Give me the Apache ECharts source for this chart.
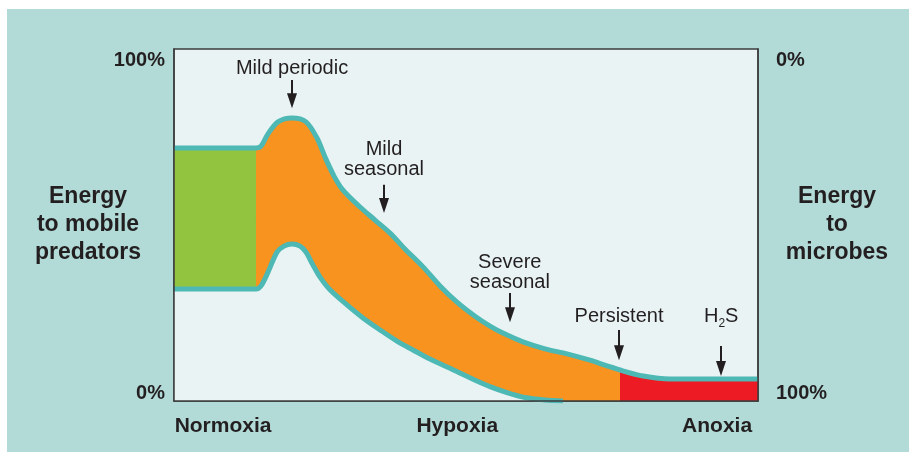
<!DOCTYPE html>
<html>
<head>
<meta charset="utf-8">
<title>Energy to predators and microbes along the oxygen gradient</title>
<script src="https://cdn.jsdelivr.net/npm/echarts@6/dist/echarts.min.js"></script>
<style>
  html, body { margin: 0; padding: 0; background: #fff; }
  #frame { position: absolute; left: 7px; top: 9px; width: 902px; height: 443px; background: #b2dbd8; }
  #chart { position: absolute; left: 0; top: 0; width: 909px; height: 452px; }
</style>
</head>
<body>
<div id="frame"></div>
<div id="chart"></div>
<script>
// upper and lower edge of the energy band, [oxygen position 0-100, energy % to predators]
const upperEdge = [
  [0, 71.9], [14.04, 71.9], [14.9, 72.4], [16.1, 75.9], [17.81, 79.3], [20.21, 80.4],
  [22.6, 79.3], [24.49, 74.7], [25.86, 69.3], [27.4, 63.9], [28.94, 59.9], [31.85, 55.1],
  [34.42, 51.4], [36.99, 47.7], [39.55, 43.2], [42.64, 38.1], [45.55, 32.7], [48.46, 28.1],
  [51.54, 24.1], [54.11, 21.3], [56.68, 19.0], [59.76, 16.8], [63.53, 14.8], [67.29, 13.4],
  [71.23, 11.6], [73.8, 10.2], [76.37, 8.8], [80.31, 7.1], [84.93, 6.25], [100, 6.25]
];
const lowerEdge = [
  [0, 31.8], [14.04, 31.8], [14.9, 32.7], [16.1, 36.6], [17.64, 42.3], [18.84, 44.0],
  [20.21, 44.6], [21.58, 44.0], [22.6, 42.3], [23.8, 38.6], [25.0, 35.2], [26.71, 31.6],
  [29.62, 27.3], [32.36, 23.6], [35.27, 20.2], [38.18, 17.0], [40.92, 14.5], [43.84, 11.9],
  [47.77, 8.9], [51.2, 6.2], [54.11, 4.1], [57.02, 2.4], [60.1, 1.0], [63.53, 0.3], [66.61, 0]
];
// where normoxia turns to hypoxia, and hypoxia to anoxia
const greenEnd = 14.04;
const redStart = 76.37;

// arrows: x, arrow tip, arrow tail, label centre
const annoLabels = ['Mild periodic', 'Mild\nseasonal', 'Severe\nseasonal', 'Persistent', 'H{sub|2}S'];
const annoX = [20.21, 35.96, 57.5, 76.2, 93.7];
const annoTip = [83.2, 53.4, 22.4, 11.6, 7.1];
const annoTail = [91.2, 61.4, 30.7, 20.2, 15.6];
const annoTextY = [94.6, 68.75, 36.6, 24.1, 24.1];

const xLabelAt = [8.4, 48.5, 93];
const xLabels = ['Normoxia', 'Hypoxia', 'Anoxia'];

const FONT = '"Liberation Sans", Arial, Helvetica, sans-serif';
const INK = '#231f20';
const TEAL = '#4db8b4';
const PLOT_BG = '#e9f3f3';
const SMOOTH = 0.3;

const chart = echarts.init(document.getElementById('chart'));

const bandArea = (data, color) => ({
  type: 'line', data: data, smooth: SMOOTH, symbol: 'none', silent: true,
  lineStyle: { width: 0 }, areaStyle: { color: color, opacity: 1 }
});
const edgeLine = (data) => ({
  type: 'line', data: data, smooth: SMOOTH, symbol: 'none', silent: true,
  lineStyle: { color: TEAL, width: 5 }
});

const greenPart = upperEdge.filter(p => p[0] <= greenEnd);
const orangePart = upperEdge.filter(p => p[0] >= greenEnd && p[0] <= redStart);
const redPart = upperEdge.filter(p => p[0] >= redStart);
const coverPart = lowerEdge.concat([[100, 0]]);

const percentRich = {
  hi: { padding: [22, 0, 0, 0], fontSize: 20, fontWeight: 'bold', fontFamily: FONT, color: INK },
  lo: { padding: [0, 0, 16, 0], fontSize: 20, fontWeight: 'bold', fontFamily: FONT, color: INK }
};
const borderLine = { show: true, lineStyle: { color: '#3d3d3d', width: 1.5 } };
const sideTitle = { align: 'center', fontSize: 23, fontWeight: 'bold', fontFamily: FONT, color: INK, lineHeight: 28 };

const option = {
  animation: false,
  grid: {
    left: 174, right: 151, top: 49, bottom: 51,
    containLabel: false, outerBoundsMode: 'none',
    show: true, backgroundColor: PLOT_BG, borderColor: '#3d3d3d', borderWidth: 1.5
  },
  xAxis: {
    type: 'value', min: 0, max: 100, z: 10,
    axisLine: borderLine, axisTick: { show: false }, splitLine: { show: false },
    axisLabel: {
      customValues: xLabelAt,
      formatter: v => xLabels[xLabelAt.indexOf(v)],
      margin: 15, fontSize: 21, fontWeight: 'bold', fontFamily: FONT, color: INK
    }
  },
  yAxis: [{
    type: 'value', min: 0, max: 100, interval: 100, position: 'left', z: 10,
    axisLine: borderLine, axisTick: { show: false }, splitLine: { show: false },
    axisLabel: { margin: 9, formatter: v => v === 100 ? '{hi|100%}' : '{lo|0%}', rich: percentRich },
    name: 'Energy\nto mobile\npredators', nameLocation: 'middle', nameRotate: 0, nameGap: 86,
    nameMoveOverlap: false, nameTextStyle: sideTitle
  }, {
    type: 'value', min: 0, max: 100, interval: 100, position: 'right', z: 10,
    axisLine: borderLine, axisTick: { show: false }, splitLine: { show: false },
    axisLabel: { margin: 18, formatter: v => v === 100 ? '{hi|0%}' : '{lo|100%}', rich: percentRich },
    name: 'Energy\nto\nmicrobes', nameLocation: 'middle', nameRotate: 0, nameGap: 79,
    nameMoveOverlap: false, nameTextStyle: sideTitle
  }],
  series: [
    bandArea(greenPart, '#92c43f'),
    bandArea(orangePart, '#f7931e'),
    bandArea(redPart, '#ed1c24'),
    bandArea(coverPart, PLOT_BG),
    edgeLine(upperEdge),
    edgeLine(lowerEdge),
    {
      type: 'custom', clip: false, silent: true, z: 5,
      data: annoX.map((x, i) => [x, annoTip[i], annoTail[i], annoTextY[i]]),
      encode: { x: 0, y: 1 },
      renderItem: function (params, api) {
        const tip = api.coord([api.value(0), api.value(1)]);
        const tail = api.coord([api.value(0), api.value(2)]);
        const txt = api.coord([api.value(0), api.value(3)]);
        const x = Math.round(tip[0]);
        return {
          type: 'group',
          children: [
            { type: 'line', shape: { x1: x, y1: tail[1], x2: x, y2: tip[1] - 12 },
              style: { stroke: INK, lineWidth: 2 } },
            { type: 'polygon', shape: { points: [[x - 5, tip[1] - 15], [x + 5, tip[1] - 15], [x, tip[1]]] },
              style: { fill: INK } },
            { type: 'text', x: txt[0], y: txt[1],
              style: {
                text: annoLabels[params.dataIndex], align: 'center', verticalAlign: 'middle',
                fontSize: 20, lineHeight: 20, fontFamily: FONT, fill: INK,
                rich: { sub: { fontSize: 12, fontFamily: FONT, fill: INK, padding: [16, 0, 0, 0] } }
              } }
          ]
        };
      }
    }
  ]
};

chart.setOption(option);
</script>
</body>
</html>
